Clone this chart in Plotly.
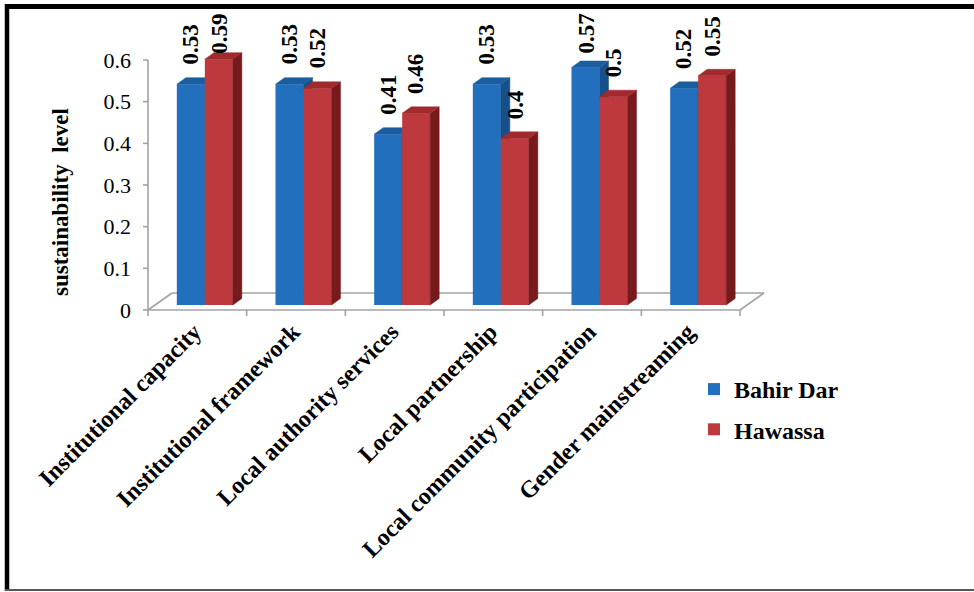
import plotly.graph_objects as go

# ---- data -------------------------------------------------------------
categories = [
    "Institutional capacity",
    "Institutional framework",
    "Local authority services",
    "Local partnership",
    "Local community participation",
    "Gender mainstreaming",
]
bahir_dar = [0.53, 0.53, 0.41, 0.53, 0.57, 0.52]
hawassa = [0.59, 0.52, 0.46, 0.40, 0.50, 0.55]
series_names = ["Bahir Dar", "Hawassa"]
y_tick_values = [0, 0.1, 0.2, 0.3, 0.4, 0.5, 0.6]
y_tick_labels = ["0", "0.1", "0.2", "0.3", "0.4", "0.5", "0.6"]
y_title = "sustainability\u00a0\u00a0level"

# ---- canvas geometry (pixels) -----------------------------------------
W, H = 974, 592
PLOT_L, PLOT_R, PLOT_T, PLOT_B = 140, 790, 8, 320
X0_PX, Y0_PX = 148, 310            # left edge of first category / value 0
CAT_PX = (740 - 148) / len(categories)
VAL_PX = (310 - 60) / 0.6

x_range = [(PLOT_L - X0_PX) / CAT_PX, (PLOT_R - X0_PX) / CAT_PX]
y_range = [(Y0_PX - PLOT_B) / VAL_PX, (Y0_PX - PLOT_T) / VAL_PX]


def dx(px):
    return px / CAT_PX


def dy(px):
    return px / VAL_PX


def paper_x(px):
    return (px - PLOT_L) / (PLOT_R - PLOT_L)


def paper_y(py):
    return (PLOT_B - py) / (PLOT_B - PLOT_T)


# pseudo-3D look
BAR_W = dx(28)
GROUP_SHIFT_X = dx(7.5)
BASE_Y = dy(5)
SIDE_X, SIDE_Y = dx(9), dy(6.5)
FLOOR_X, FLOOR_Y = dx(24), dy(17)

FONT = "Liberation Serif"
AXIS_GREY = "#a3a3a3"
palette = {
    "Bahir Dar": {"front": "#216fbd", "top": "#1b5e9f", "side": "#175089"},
    "Hawassa": {"front": "#be393e", "top": "#a12a2f", "side": "#761a1e"},
}

n = len(categories)
fig = go.Figure()

# ---- axes frame and floor (subplot x/y, drawn first) -------------------
axis_x, axis_y = [], []


def seg(p, q):
    axis_x.extend([p[0], q[0], None])
    axis_y.extend([p[1], q[1], None])


seg((0, 0), (0, y_tick_values[-1]))
for v in y_tick_values:
    seg((-dx(5), v), (0, v))
seg((0, 0), (n, 0))
for i in range(n + 1):
    seg((i, 0), (i, -dy(6)))
seg((0, 0), (FLOOR_X, FLOOR_Y))
seg((FLOOR_X, FLOOR_Y), (n + FLOOR_X, FLOOR_Y))
seg((n + FLOOR_X, FLOOR_Y), (n, 0))
fig.add_trace(go.Scatter(x=axis_x, y=axis_y, mode="lines",
                         line=dict(color=AXIS_GREY, width=1.6),
                         hoverinfo="skip", showlegend=False,
                         xaxis="x", yaxis="y"))

# ---- bars: each series on its own overlaid subplot so faces stack right --
all_series = [bahir_dar, hawassa]
label_annotations = []
LABEL_GAP = dy(11)
LABEL_LEN = dy(40)
LABEL_CEIL = dy(Y0_PX - 12)

for k, (name, values) in enumerate(zip(series_names, all_series)):
    xa, ya = "x%d" % (k + 2), "y%d" % (k + 2)
    col = palette[name]
    centers = [i + 0.5 + GROUP_SHIFT_X + (k - 0.5) * BAR_W for i in range(n)]

    fig.add_trace(go.Bar(
        x=centers, y=values, base=[BASE_Y] * n, width=BAR_W,
        name="<b>%s</b>" % name,
        marker=dict(color=col["front"], line=dict(width=0)),
        legendgroup=name, xaxis=xa, yaxis=ya, hoverinfo="skip",
    ))

    side_x, side_y, top_x, top_y = [], [], [], []
    for c, v in zip(centers, values):
        a, b = c - BAR_W / 2, c + BAR_W / 2
        y_top = BASE_Y + v
        side_x += [b, b + SIDE_X, b + SIDE_X, b, b, None]
        side_y += [BASE_Y, BASE_Y + SIDE_Y, y_top + SIDE_Y, y_top, BASE_Y, None]
        top_x += [a, a + SIDE_X, b + SIDE_X, b, a, None]
        top_y += [y_top, y_top + SIDE_Y, y_top + SIDE_Y, y_top, y_top, None]

        # value label above the bar, pushed down when it would leave the chart
        y_label = y_top + SIDE_Y + LABEL_GAP
        anchor = "bottom"
        if y_label + LABEL_LEN > LABEL_CEIL:
            y_label, anchor = LABEL_CEIL, "top"
        label_annotations.append(dict(
            x=c, y=y_label, xref="x", yref="y", text="<b>%g</b>" % v,
            showarrow=False, textangle=-90, xanchor="center", yanchor=anchor,
            font=dict(family=FONT, size=23, color="black"),
        ))

    for xs, ys, fc in ((side_x, side_y, col["side"]), (top_x, top_y, col["top"])):
        fig.add_trace(go.Scatter(
            x=xs, y=ys, mode="lines", fill="toself", fillcolor=fc,
            line=dict(width=0.5, color=fc), hoverinfo="skip",
            showlegend=False, xaxis=xa, yaxis=ya,
        ))

# ---- layout -------------------------------------------------------------
hidden_axis = dict(range=x_range, visible=False, showgrid=False, zeroline=False)
hidden_yaxis = dict(range=y_range, visible=False, showgrid=False, zeroline=False)

frame_shapes = [
    dict(type="line", xref="paper", yref="paper",
         x0=paper_x(5), x1=paper_x(W + 5), y0=paper_y(6.5), y1=paper_y(6.5),
         line=dict(color="black", width=5)),
    dict(type="line", xref="paper", yref="paper",
         x0=paper_x(7), x1=paper_x(7), y0=paper_y(4), y1=paper_y(591),
         line=dict(color="black", width=4.5)),
    dict(type="line", xref="paper", yref="paper",
         x0=paper_x(5), x1=paper_x(W + 5), y0=paper_y(590), y1=paper_y(590),
         line=dict(color="#555555", width=2)),
]

title_annotation = dict(
    x=paper_x(60), y=paper_y(202), xref="paper", yref="paper",
    text="<b>%s</b>" % y_title, showarrow=False, textangle=-90,
    xanchor="center", yanchor="middle",
    font=dict(family=FONT, size=23, color="black"),
)

fig.update_layout(
    width=W, height=H,
    margin=dict(l=PLOT_L, r=W - PLOT_R, t=PLOT_T, b=H - PLOT_B, autoexpand=False),
    paper_bgcolor="white", plot_bgcolor="white",
    barmode="overlay",
    xaxis=dict(range=x_range, tickmode="array",
               tickvals=[i + 0.5 - dx(3) for i in range(n)],
               ticktext=["<b>%s</b>" % c for c in categories],
               tickangle=-45, ticks="", showline=False, showgrid=False,
               zeroline=False, ticklabelstandoff=0,
               anchor="free", position=paper_y(312),
               tickfont=dict(family=FONT, size=24, color="black")),
    yaxis=dict(range=y_range, tickmode="array", tickvals=y_tick_values,
               ticktext=y_tick_labels, ticks="", showline=False, showgrid=False,
               zeroline=False, ticklabelstandoff=8,
               tickfont=dict(family=FONT, size=22, color="black")),
    xaxis2=dict(overlaying="x", **hidden_axis),
    yaxis2=dict(overlaying="y", anchor="x2", **hidden_yaxis),
    xaxis3=dict(overlaying="x", **hidden_axis),
    yaxis3=dict(overlaying="y", anchor="x3", **hidden_yaxis),
    legend=dict(x=paper_x(694), y=paper_y(367), xanchor="left", yanchor="top",
                traceorder="grouped", tracegroupgap=6,
                font=dict(family=FONT, size=24, color="black"),
                bgcolor="rgba(0,0,0,0)", itemwidth=30),
    annotations=label_annotations + [title_annotation],
    shapes=frame_shapes,
    showlegend=True,
)

fig.write_html("out.html")
